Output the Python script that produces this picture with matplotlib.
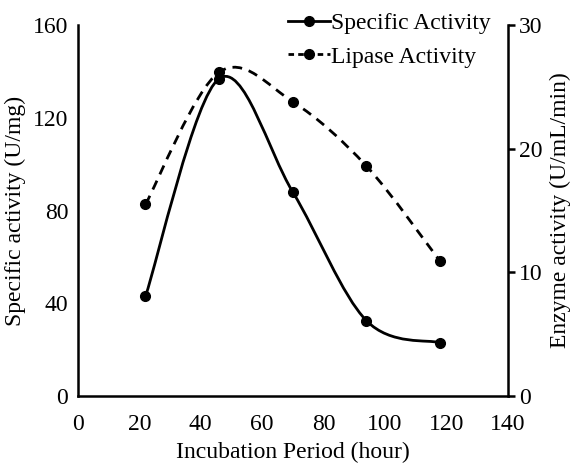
import numpy as np
import matplotlib
matplotlib.use("Agg")
import matplotlib.pyplot as plt
from matplotlib.path import Path
from matplotlib.patches import PathPatch
from matplotlib.lines import Line2D

plt.rcParams['font.family'] = ['Liberation Serif', 'DejaVu Serif']

# data
hours = [22, 46, 70, 94, 118]
specific_activity = [43, 137, 88, 32.5, 23]      # U/mg (left axis)
lipase_activity = [15.5, 26.2, 23.8, 18.6, 10.9]  # U/mL/min (right axis)

x_ticks = [0, 20, 40, 60, 80, 100, 120, 140]
left_ticks = [0, 40, 80, 120, 160]
right_ticks = [0, 10, 20, 30]


def smooth_path(xs, ys):
    # excel-style smoothed line: cubic bezier, tension 1/6
    p = np.column_stack([xs, ys]).astype(float)
    n = len(p)
    verts = [p[0]]
    codes = [Path.MOVETO]
    for i in range(n - 1):
        p0 = p[i - 1] if i > 0 else p[i]
        p3 = p[i + 2] if i + 2 < n else p[i + 1]
        c1 = p[i] + (p[i + 1] - p0) / 6.0
        c2 = p[i + 1] - (p3 - p[i]) / 6.0
        verts += [c1, c2, p[i + 1]]
        codes += [Path.CURVE4] * 3
    return Path(verts, codes)


fig = plt.figure(figsize=(5.73, 4.67), dpi=100)
ax = fig.add_axes([0.136, 0.152, 0.750, 0.794])
ax2 = ax.twinx()

lw = 2.0
ms = 7
ax.add_patch(PathPatch(smooth_path(hours, specific_activity), fill=False,
                       lw=lw, color='black', capstyle='round'))
ax.plot(hours, specific_activity, 'o', color='black', ms=ms)

ax2.add_patch(PathPatch(smooth_path(hours, lipase_activity), fill=False,
                        lw=lw, color='black', linestyle=(0, (3.5, 2.5))))
ax2.plot(hours, lipase_activity, 'o', color='black', ms=ms)

ax.set_xlim(0, 140)
ax.set_ylim(0, 160)
ax2.set_ylim(0, 30)
ax.set_xticks(x_ticks)
ax.set_yticks(left_ticks)
ax2.set_yticks(right_ticks)

fs = 17
for a in (ax, ax2):
    a.spines['top'].set_visible(False)
    for s in a.spines.values():
        s.set_linewidth(1.8)
ax.spines['right'].set_visible(False)
ax2.spines['left'].set_visible(False)
ax2.spines['bottom'].set_visible(False)

ax.tick_params(axis='both', length=0, labelsize=fs, pad=7)
ax.tick_params(axis='x', pad=13)
ax2.tick_params(axis='y', length=5, width=1.8, labelsize=fs, pad=3)

ax.set_xlabel('Incubation Period (hour)', fontsize=fs, labelpad=5)
ax.set_ylabel('Specific activity (U/mg)', fontsize=fs, labelpad=5)
ax2.set_ylabel('Enzyme activity (U/mL/min)', fontsize=fs, labelpad=5)

handles = [
    Line2D([], [], color='black', lw=lw, marker='o', ms=ms),
    Line2D([], [], color='black', lw=lw, ls=(0, (2, 1.5)), marker='o', ms=ms),
]
fig.legend(handles, ['Specific Activity', 'Lipase Activity'],
           loc='upper left', bbox_to_anchor=(0.47, 1.013), frameon=False,
           fontsize=fs, handlelength=1.75, handletextpad=0.05,
           labelspacing=0.5, borderpad=0.3)

fig.savefig('out.png', dpi=100)
